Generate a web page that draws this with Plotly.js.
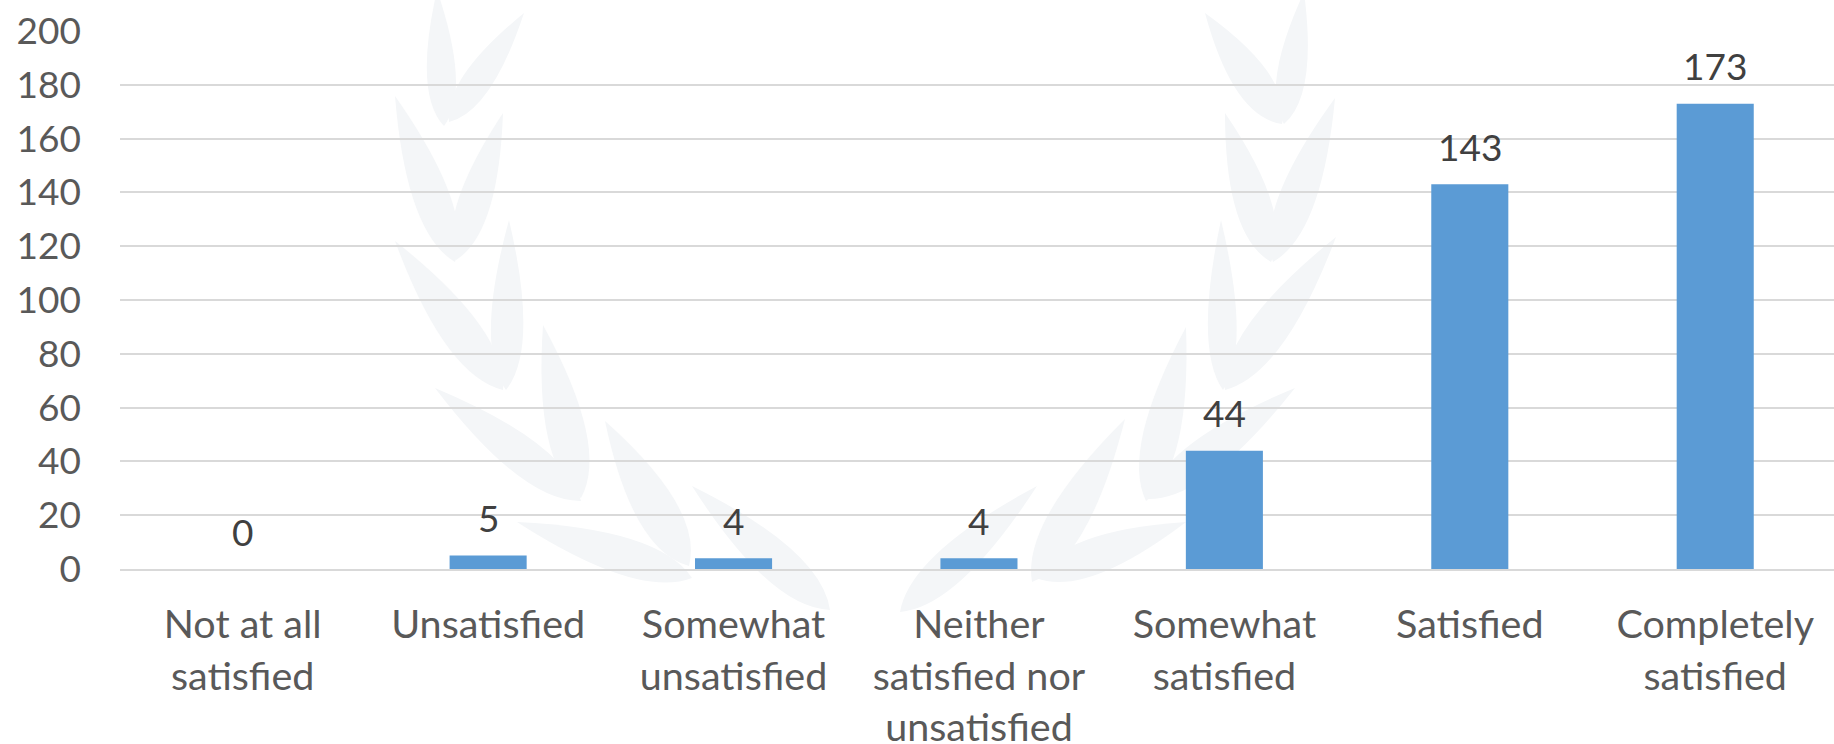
<!DOCTYPE html>
<html><head><meta charset="utf-8">
<script src="https://cdn.plot.ly/plotly-3.0.1.min.js"></script>
<style>html,body{margin:0;padding:0;background:#fff}#c{width:1834px;height:744px}</style>
</head><body><div id="c"></div>
<script>
const categories = ["Not at all<br>satisfied","Unsatisfied","Somewhat<br>unsatisfied","Neither<br>satisfied nor<br>unsatisfied","Somewhat<br>satisfied","Satisfied","Completely<br>satisfied"];
const values = [0,5,4,4,44,143,173];
const tickVals = [0,20,40,60,80,100,120,140,160,180,200];
const font = "Lato, 'Open Sans', sans-serif";

// Decorative background wreath only (not data): [baseX, baseY, tipX, tipY, width] in page pixels
const wreathLeaves = [
  [444,126,437,-10,32],[449,122,524,13,32],[455,262,395,96,40],[456,260,503,113,36],
  [503,390,395,241,43],[506,390,509,220,36],[581,501,435,388,41],[581,498,543,325,43],
  [692,578,517,522,41],[689,566,605,421,46],[830,610,692,486,43],
  [1282,124,1205,13,40],[1284,124,1304,-8,32],[1271,262,1225,113,40],[1273,262,1335,98,40],
  [1223,390,1221,220,32],[1225,390,1336,237,43],[1146,501,1186,327,40],[1148,499,1295,388,40],
  [1032,582,1125,419,43],[1036,578,1186,522,40],[900,612,1037,486,40]
];
const W = 1834, H = 744, L = 120, T = 31, B = 175;
const plotW = W - L, plotH = H - T - B;
const px = x => ((x - L) / plotW).toFixed(5);
const py = y => ((H - B - y) / plotH).toFixed(5);
const leafShapes = wreathLeaves.map(([bx,by,tx,ty,w]) => {
  const dx = tx-bx, dy = ty-by, n = Math.hypot(dx,dy), ux = -dy/n, uy = dx/n;
  const c = (f,s) => `${px(bx+dx*f+ux*s*w*0.9)},${py(by+dy*f+uy*s*w*0.9)}`;
  return {type:'path',xref:'paper',yref:'paper',layer:'below',line:{width:0},fillcolor:'#f4f6f8',
    path:`M${px(bx)},${py(by)} Q${c(0.25,1)} ${px(tx)},${py(ty)} Q${c(0.25,-1)} ${px(bx)},${py(by)} Z`};
});

const dataLabels = categories.map((c,i) => ({
  x:c,y:values[i],xref:'x',yref:'y',text:String(values[i]),showarrow:false,yanchor:'middle',yshift:38,
  font:{family:font,size:37,color:'#404040'}
}));

Plotly.newPlot('c',[{
  type:'bar',x:categories,y:values,cliponaxis:false,
  marker:{color:'#5B9BD5'},width:0.314,hoverinfo:'skip'
}],{
  width:W,height:H,margin:{l:L,r:0,t:T,b:B,pad:0},
  paper_bgcolor:'#fff',plot_bgcolor:'rgba(0,0,0,0)',showlegend:false,
  shapes:leafShapes,annotations:dataLabels,
  xaxis:{type:'category',range:[-0.5,6.484],tickfont:{family:font,size:39.5,color:'#595959'},ticks:'',ticklabelstandoff:20,showline:true,linecolor:'#d9d9d9',linewidth:2,showgrid:false,automargin:false},
  yaxis:{range:[0,200],tickvals:tickVals,ticktext:tickVals.map(String),tickfont:{family:font,size:37,color:'#595959'},ticks:'',ticklabelstandoff:38,gridcolor:'#d9d9d9',gridwidth:2,zeroline:false,showline:false,automargin:false}
},{displayModeBar:false,staticPlot:true});
</script></body></html>
